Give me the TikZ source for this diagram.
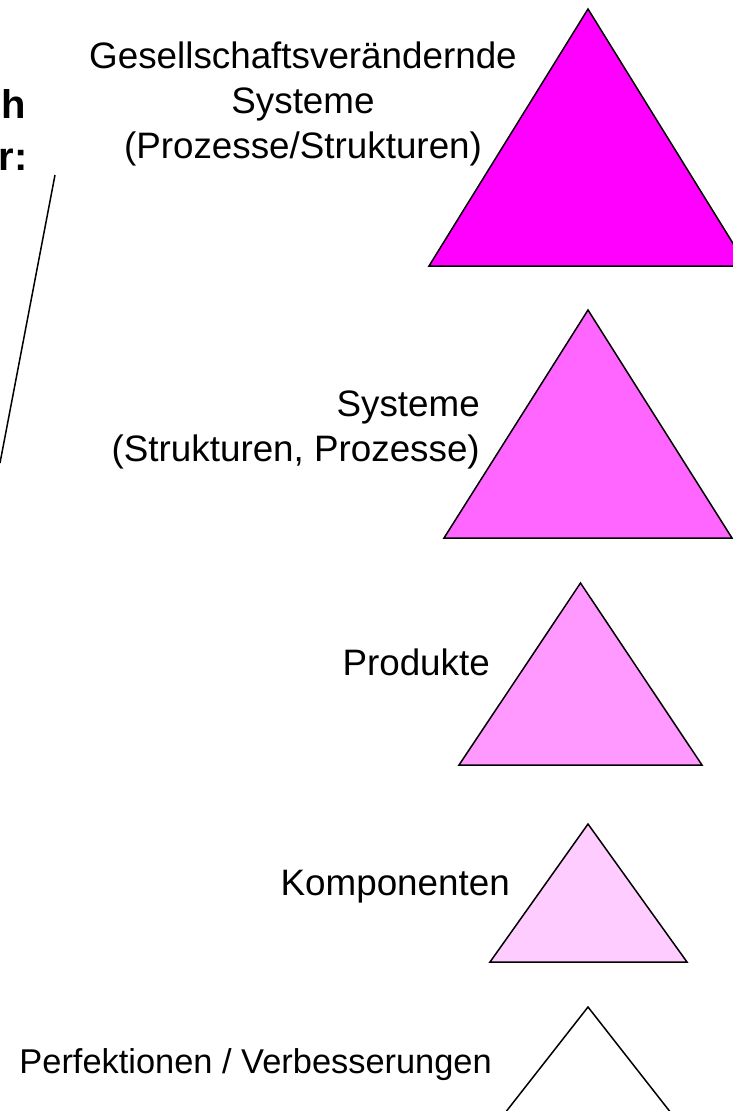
\documentclass[tikz,border=0pt]{standalone}
\usepackage{fontspec}
\setmainfont{Liberation Sans}
\definecolor{tri1}{HTML}{FF00FF}
\definecolor{tri2}{HTML}{FF66FF}
\definecolor{tri3}{HTML}{FF99FF}
\definecolor{tri4}{HTML}{FFCCFF}
\begin{document}
\begin{tikzpicture}[x=1pt,y=-1pt,
  tri/.style={draw=black,line width=1.5pt,line join=miter},
  lbl/.style={inner sep=0pt,font=\fontsize{36.8}{45}\selectfont},
  slbl/.style={inner sep=0pt,font=\fontsize{34.4}{42}\selectfont},
  blbl/.style={inner sep=0pt,font=\fontsize{40}{50}\selectfont\bfseries}]
\useasboundingbox (0,0) rectangle (733,1111);
\clip (0,0) rectangle (733,1111);
% triangles
\draw[tri,fill=tri1] (588,9) -- (747,266) -- (429,266) -- cycle;
\draw[tri,fill=tri2] (588,310) -- (732,538) -- (444,538) -- cycle;
\draw[tri,fill=tri3] (580.5,583) -- (702,765) -- (459,765) -- cycle;
\draw[tri,fill=tri4] (588,824) -- (687,962) -- (490,962) -- cycle;
\draw[tri,fill=white] (588,1007) -- (700,1150) -- (476,1150) -- cycle;
% labels
\node[lbl,align=center] (t1) at (303,103.5) {Gesellschaftsverändernde\\Systeme\\(Prozesse/Strukturen)};
\node[lbl,align=right,anchor=east] (t2) at (480,430) {Systeme\\(Strukturen, Prozesse)};
\node[lbl,anchor=base east] (t3) at (490,675) {Produkte};
\node[lbl,anchor=base east] (t4) at (510,895) {Komponenten};
\node[slbl,anchor=base east] (t5) at (492,1073) {Perfektionen / Verbesserungen};
\node[blbl,anchor=base east] (h1) at (26,118) {h};
\node[blbl,anchor=base east] (h2) at (28,170) {r:};
% line
\coordinate (la) at (55,175);
\coordinate (lb) at (0,463);
\draw[line width=1.5pt] (la) -- (lb);
\end{tikzpicture}
\end{document}
